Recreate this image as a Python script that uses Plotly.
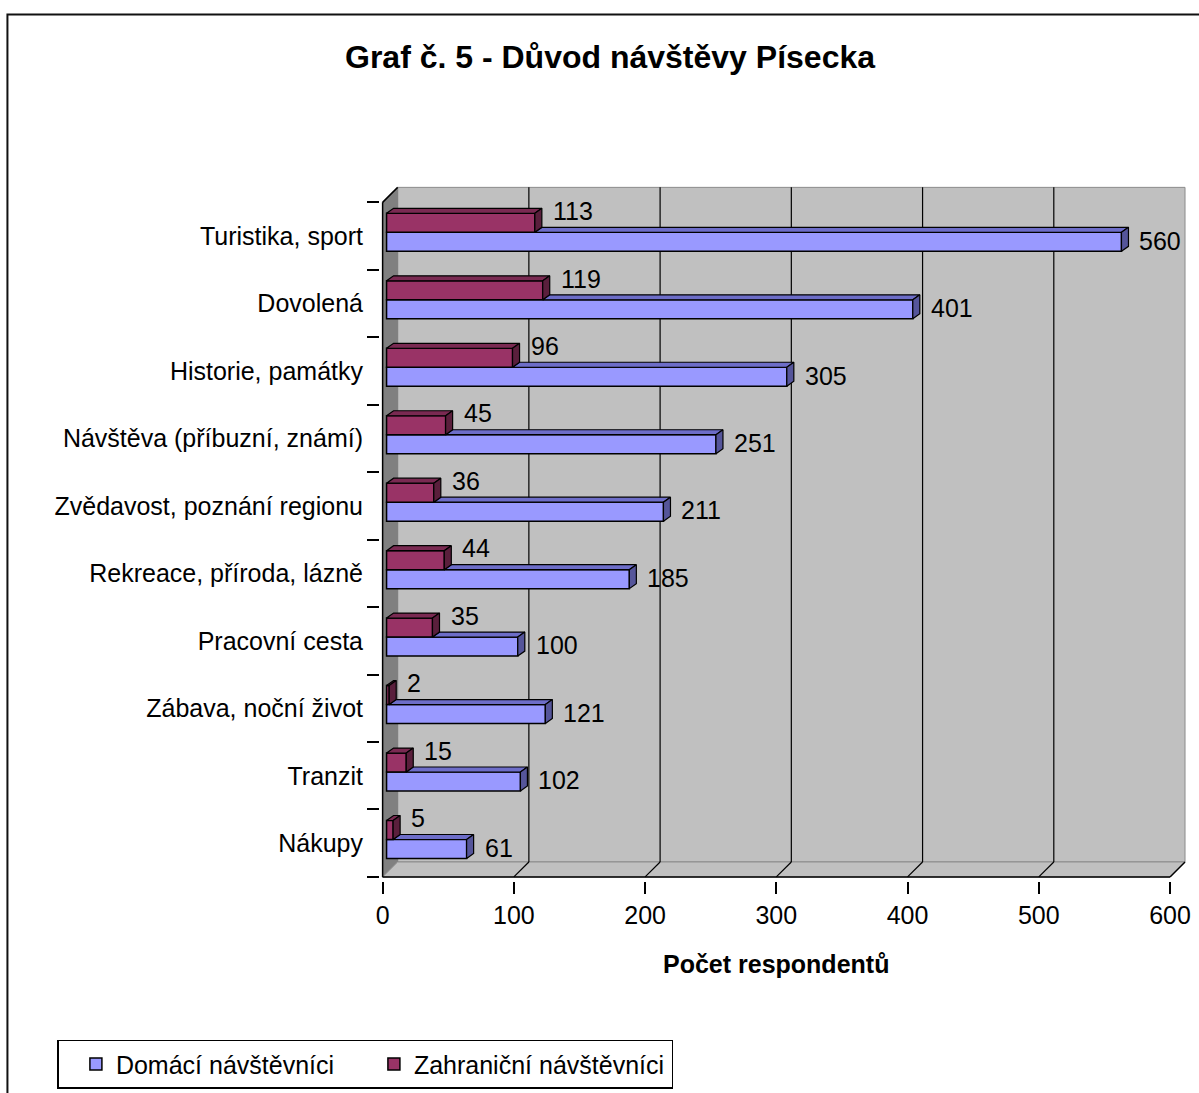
import plotly.graph_objects as go

categories = ["Turistika, sport", "Dovolená", "Historie, památky", "Návštěva (příbuzní, známí)",
              "Zvědavost, poznání regionu", "Rekreace, příroda, lázně", "Pracovní cesta",
              "Zábava, noční život", "Tranzit", "Nákupy"]
domaci = [560, 401, 305, 251, 211, 185, 100, 121, 102, 61]
zahranicni = [113, 119, 96, 45, 36, 44, 35, 2, 15, 5]
x_ticks = [0, 100, 200, 300, 400, 500, 600]

FONT = "Liberation Sans, Arial, sans-serif"
W, H = 1199, 1093

# pixel geometry of the plot (front axis: 0 at x=383, 600 at x=1170; bottom at y=877)
X0PX, X600PX, YBOTPX = 383, 1170, 877
KX = (X600PX - X0PX) / 600.0          # px per unit
KY = 67.5                              # px per category
n = len(categories)
pos = [n - 1 - i for i in range(n)]

WALL = 15                              # wall depth in px
DXW, DYW = WALL / KX, WALL / KY
BAR_D = 7 / KX, 5 / KY                 # bar depth (dx, dy)
BASE = 3.0
BW = 19 / KY
RED_OFF = 3.75 / KY
BLUE_OFF = RED_OFF - BW

XMIN, XMAX = -2.0, 600 + DXW + 1.5
YMIN, YMAX = -0.56, 9.5 + DYW + 0.05
l_px = X0PX + XMIN * KX
r_px = X0PX + XMAX * KX
b_px = YBOTPX - (YMIN + 0.5) * KY
t_px = YBOTPX - (YMAX + 0.5) * KY


def paper_x(px):
    return (px - l_px) / (r_px - l_px)


def paper_y(py):
    return (b_px - py) / (b_px - t_px)


blue, blue_top, blue_side = "#9999FF", "#6d6dc8", "#55559a"
red, red_top, red_side = "#993366", "#7a2a52", "#5a1f3c"

fig = go.Figure()
fig.add_trace(go.Bar(name="Domácí návštěvníci", y=pos, x=domaci, base=BASE, orientation="h",
                     width=BW, offset=BLUE_OFF, marker=dict(color=blue, line=dict(color="black", width=1.5))))
fig.add_trace(go.Bar(name="Zahraniční návštěvníci", y=pos, x=zahranicni, base=BASE, orientation="h",
                     width=BW, offset=RED_OFF, marker=dict(color=red, line=dict(color="black", width=1.5))))


def face(xs, ys, color):
    fig.add_trace(go.Scatter(x=xs, y=ys, mode="lines", fill="toself", fillcolor=color,
                             line=dict(color="black", width=1.2), showlegend=False, hoverinfo="skip"))


dx, dy = BAR_D
# blue top faces (only the part right of the red bar) and side faces
tx, ty, sx, sy = [], [], [], []
for p, b, r in zip(pos, domaci, zahranicni):
    xe = BASE + b
    xl = BASE + r
    yt = p + BLUE_OFF + BW
    yb = p + BLUE_OFF
    tx += [xl, xe, xe + dx, xl + dx, xl, None]
    ty += [yt, yt, yt + dy, yt + dy, yt, None]
    sx += [xe, xe, xe + dx, xe + dx, xe, None]
    sy += [yb, yt, yt + dy, yb + dy, yb, None]
face(tx, ty, blue_top)
face(sx, sy, blue_side)

tx, ty, sx, sy = [], [], [], []
for p, r in zip(pos, zahranicni):
    xe = BASE + r
    xl = BASE
    yt = p + RED_OFF + BW
    yb = p + RED_OFF
    tx += [xl, xe, xe + dx, xl + dx, xl, None]
    ty += [yt, yt, yt + dy, yt + dy, yt, None]
    sx += [xe, xe, xe + dx, xe + dx, xe, None]
    sy += [yb, yt, yt + dy, yb + dy, yb, None]
face(tx, ty, red_top)
face(sx, sy, red_side)

# data labels
gap = 9 / KX
for p, b, r in zip(pos, domaci, zahranicni):
    fig.add_annotation(x=BASE + b + dx + gap, y=p - 4.5 / KY, text=str(b), showarrow=False,
                       xanchor="left", yanchor="middle", font=dict(size=25, color="black", family=FONT))
    fig.add_annotation(x=BASE + r + dx + gap, y=p + 25 / KY, text=str(r), showarrow=False,
                       xanchor="left", yanchor="middle", font=dict(size=25, color="black", family=FONT))

# 3D walls
y0, y1 = -0.5, n - 0.5
shapes = [
    dict(type="rect", x0=DXW, x1=600 + DXW, y0=y0 + DYW, y1=y1 + DYW,
         fillcolor="#c0c0c0", line=dict(color="#8c8c8c", width=1)),
    dict(type="path", path=f"M 0 {y0} L 0 {y1} L {DXW} {y1 + DYW} L {DXW} {y0 + DYW} Z",
         fillcolor="#808080", line=dict(color="#808080", width=1)),
    dict(type="path", path=f"M 0 {y0} L 600 {y0} L {600 + DXW} {y0 + DYW} L {DXW} {y0 + DYW} Z",
         fillcolor="#c0c0c0", line=dict(color="#8c8c8c", width=1)),
]
for v in x_ticks[1:-1]:
    shapes.append(dict(type="line", x0=v + DXW, x1=v + DXW, y0=y0 + DYW, y1=y1 + DYW,
                       line=dict(color="black", width=1.2)))
    shapes.append(dict(type="line", x0=v, x1=v + DXW, y0=y0, y1=y0 + DYW,
                       line=dict(color="black", width=1.2)))
shapes += [
    dict(type="line", x0=0, x1=0, y0=y0, y1=y1, line=dict(color="black", width=1.5)),
    dict(type="line", x0=0, x1=DXW, y0=y1, y1=y1 + DYW, line=dict(color="black", width=1.5)),
    dict(type="line", x0=0, x1=600, y0=y0, y1=y0, line=dict(color="black", width=1.5)),
    dict(type="line", x0=600, x1=600 + DXW, y0=y0, y1=y0 + DYW, line=dict(color="black", width=1.5)),
]
for s in shapes:
    s.update(xref="x", yref="y", layer="below")

# outer frame
shapes.append(dict(type="rect", xref="paper", yref="paper", x0=paper_x(8), x1=paper_x(W + 20),
                   y0=paper_y(H + 20), y1=paper_y(14), line=dict(color="#111111", width=2), layer="above"))

fig.update_layout(
    width=W, height=H,
    margin=dict(l=l_px, r=W - r_px, t=t_px, b=H - b_px, pad=0, autoexpand=False),
    paper_bgcolor="white", plot_bgcolor="white",
    font=dict(family=FONT, size=25, color="black"),
    title=dict(text="<b>Graf č. 5 - Důvod návštěvy Písecka</b>", x=610 / W, xanchor="center",
               y=1 - 57 / H, yanchor="middle", xref="container", yref="container",
               font=dict(size=32, family=FONT, color="black")),
    barmode="overlay",
    shapes=shapes,
    showlegend=True,
    legend=dict(orientation="h", x=paper_x(58), y=paper_y(1040), xanchor="left", yanchor="top",
                bgcolor="white", bordercolor="black", borderwidth=1.5,
                font=dict(size=25, family=FONT), traceorder="normal",
                title=dict(text="&nbsp;", side="left", font=dict(size=25, family=FONT)),
                entrywidth=253, entrywidthmode="pixels"),
)
fig.update_xaxes(range=[XMIN, XMAX], tickvals=x_ticks, ticks="outside", ticklen=12, tickcolor="black",
                 tickwidth=1.5, showgrid=False, zeroline=False, showline=False, automargin=False,
                 ticklabelstandoff=0, tickfont=dict(size=25, family=FONT))
fig.update_yaxes(range=[YMIN, YMAX], tickvals=pos, ticktext=categories, ticks="outside", ticklen=11,
                 tickcolor="rgba(0,0,0,0)", showgrid=False, zeroline=False, showline=False,
                 automargin=False, tickfont=dict(size=25, family=FONT),
                 minor=dict(tickvals=[v - 0.5 for v in range(n + 1)], ticks="outside", ticklen=12,
                            tickcolor="black", tickwidth=1.5, showgrid=False))
fig.add_annotation(text="<b>Počet respondentů</b>", xref="paper", yref="paper", x=paper_x(776.5),
                   y=paper_y(964), showarrow=False, xanchor="center", yanchor="middle",
                   font=dict(size=25, family=FONT, color="black"))

fig.write_html("out.html", config={"displayModeBar": False},
               post_script="document.body.style.margin='0';")
